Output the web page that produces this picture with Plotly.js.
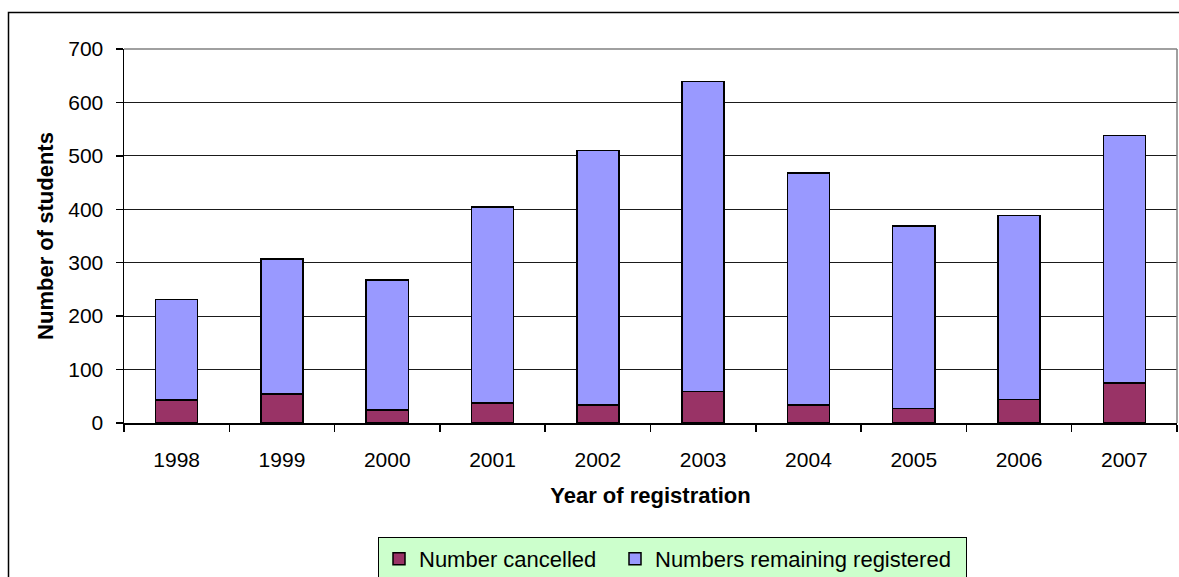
<!DOCTYPE html>
<html>
<head>
<meta charset="utf-8">
<script src="https://cdn.plot.ly/plotly-3.0.1.min.js"></script>
<style>
  html, body { margin: 0; padding: 0; background: #ffffff; }
  #chart { width: 1179px; height: 577px; }
</style>
</head>
<body>
<div id="chart"></div>
<script>
// Student registrations by year, split into cancelled and still registered
const years = ['1998', '1999', '2000', '2001', '2002', '2003', '2004', '2005', '2006', '2007'];
const cancelled = [43, 54, 24, 37, 34, 59, 34, 27, 44, 75];
const remaining = [188, 253, 244, 367, 476, 580, 434, 342, 344, 463];

const W = 1179, H = 577;
const M = { l: 124, r: 2, t: 49, b: 154 };
const plotW = W - M.l - M.r;
const plotH = H - M.t - M.b;
// pixel -> paper helpers for the frame lines
const px = x => (x - M.l) / plotW;
const py = y => (H - M.b - y) / plotH;

const FONT = '"Liberation Sans", Arial, sans-serif';

const traces = [
  {
    type: 'bar',
    name: 'Number cancelled',
    x: years,
    y: cancelled,
    legendwidth: 191,
    marker: { color: '#993366', line: { color: '#000000', width: 1.5 } },
    hoverinfo: 'x+y+name'
  },
  {
    type: 'bar',
    name: 'Numbers remaining registered',
    x: years,
    y: remaining,
    legendwidth: 306,
    marker: { color: '#9999FF', line: { color: '#000000', width: 1.5 } },
    hoverinfo: 'x+y+name'
  }
];

const layout = {
  width: W,
  height: H,
  margin: M,
  barmode: 'stack',
  bargap: 0.6,
  paper_bgcolor: '#ffffff',
  plot_bgcolor: '#ffffff',
  font: { family: FONT, size: 21, color: '#000000' },
  showlegend: true,
  legend: {
    orientation: 'h',
    xref: 'container', yref: 'container',
    x: 378 / W, xanchor: 'left',
    y: 1 - 537 / H, yanchor: 'top',
    bgcolor: '#CCFFCC',
    bordercolor: '#000000',
    borderwidth: 1,
    font: { family: FONT, size: 22, color: '#000000' },
    traceorder: 'normal'
  },
  xaxis: {
    type: 'category',
    tickson: 'boundaries',
    ticks: 'outside',
    ticklen: 7,
    tickwidth: 1.5,
    tickcolor: '#000000',
    showline: true,
    linecolor: '#000000',
    linewidth: 1.5,
    showgrid: false,
    ticklabelstandoff: 17,
    tickfont: { family: FONT, size: 21 },
    title: {
      text: 'Year of registration',
      font: { family: FONT, size: 22, weight: 'bold' },
      standoff: 18
    },
    fixedrange: true
  },
  yaxis: {
    range: [0, 700],
    dtick: 100,
    ticks: 'outside',
    ticklen: 7,
    tickwidth: 1.5,
    tickcolor: '#000000',
    showline: true,
    linecolor: '#000000',
    linewidth: 1.5,
    showgrid: true,
    gridcolor: '#1a1a1a',
    gridwidth: 1.2,
    zeroline: false,
    ticklabelstandoff: 8,
    tickfont: { family: FONT, size: 21 },
    title: {
      text: 'Number of students',
      font: { family: FONT, size: 22, weight: 'bold' },
      standoff: 8
    },
    fixedrange: true
  },
  shapes: [
    // grey plot-area frame on top and right
    { type: 'line', xref: 'paper', yref: 'paper', x0: 0, x1: 1, y0: 1, y1: 1,
      line: { color: '#808080', width: 1.5 }, layer: 'above' },
    { type: 'line', xref: 'paper', yref: 'paper', x0: 1, x1: 1, y0: 0, y1: 1,
      line: { color: '#808080', width: 1.5 }, layer: 'above' },
    // outer chart border
    { type: 'rect', xref: 'paper', yref: 'paper',
      x0: px(8.5), x1: px(W + 20), y0: py(12.5), y1: py(H + 20),
      line: { color: '#000000', width: 1.5 }, fillcolor: 'rgba(0,0,0,0)', layer: 'below' }
  ]
};

Plotly.newPlot('chart', traces, layout, { displayModeBar: false, staticPlot: true });
</script>
</body>
</html>
